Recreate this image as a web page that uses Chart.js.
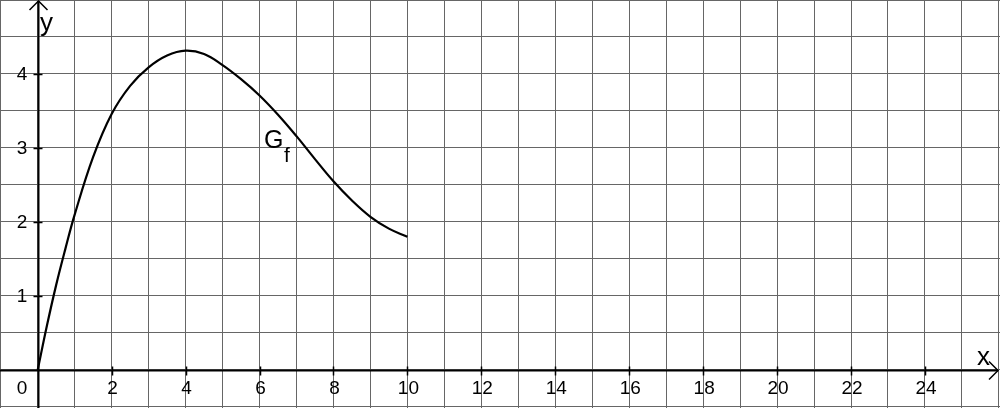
<!DOCTYPE html>
<html>
<head>
<meta charset="utf-8">
<script src="https://cdn.jsdelivr.net/npm/chart.js@4"></script>
<style>
  html, body { margin: 0; padding: 0; background: #fff; }
  #wrap { width: 1000px; height: 408px; }
</style>
</head>
<body>
<div id="wrap"><canvas id="graph" width="1000" height="408"></canvas></div>
<script>
// curve G_f
const xValues = [0, 0.25, 0.5, 0.75, 1, 1.5, 2, 2.5, 3, 3.5, 4, 4.5, 5, 5.5, 6, 6.5, 7, 7.5, 8, 8.5, 9, 9.5, 10];
const yValues = [0, 0.6, 1.15, 1.64, 2.1, 2.88, 3.46, 3.84, 4.09, 4.25, 4.315, 4.27, 4.12, 3.93, 3.71, 3.45, 3.16, 2.85, 2.55, 2.29, 2.07, 1.91, 1.8];

// labelled ticks
const xTickLabels = [2, 4, 6, 8, 10, 12, 14, 16, 18, 20, 22, 24];
const yTickLabels = [1, 2, 3, 4];

// grid lines
const xGrid = [];
for (let v = -1; v <= 26; v++) xGrid.push(v);
const yGrid = [];
for (let v = -0.5; v <= 5; v += 0.5) yGrid.push(v);

const points = xValues.map((x, i) => ({ x: x, y: yValues[i] }));

const axesPlugin = {
    id: 'axes',
    beforeDatasetsDraw(chart) {
        const ctx = chart.ctx;
        const xs = chart.scales.x, ys = chart.scales.y;
        const x0 = Math.round(xs.getPixelForValue(0)) + 0.5;
        const y0 = Math.round(ys.getPixelForValue(0)) + 0.5;
        ctx.save();
        ctx.strokeStyle = '#000';
        ctx.lineWidth = 2;
        ctx.beginPath();
        ctx.moveTo(x0, chart.height);
        ctx.lineTo(x0, 1);
        ctx.moveTo(0, y0);
        ctx.lineTo(chart.width - 2, y0);
        ctx.stroke();

        // arrow heads
        ctx.lineWidth = 1.5;
        ctx.beginPath();
        ctx.moveTo(x0 - 9, 10);
        ctx.lineTo(x0, 1);
        ctx.lineTo(x0 + 9, 10);
        ctx.moveTo(chart.width - 11, y0 - 9);
        ctx.lineTo(chart.width - 2, y0);
        ctx.lineTo(chart.width - 11, y0 + 9);
        ctx.stroke();

        // small tick marks
        ctx.beginPath();
        xTickLabels.forEach(v => {
            const p = Math.round(xs.getPixelForValue(v)) + 0.5;
            ctx.moveTo(p, y0 - 4);
            ctx.lineTo(p, y0 + 5);
        });
        yTickLabels.forEach(v => {
            const p = Math.round(ys.getPixelForValue(v)) + 0.5;
            ctx.moveTo(x0 - 5, p);
            ctx.lineTo(x0 + 4, p);
        });
        ctx.stroke();
        ctx.restore();
    },
    afterDraw(chart) {
        const ctx = chart.ctx;
        const xs = chart.scales.x, ys = chart.scales.y;
        const y0 = ys.getPixelForValue(0);
        ctx.save();
        ctx.fillStyle = '#000';
        ctx.font = '19px "Liberation Sans", Arial, sans-serif';
        ctx.textAlign = 'center';
        ctx.textBaseline = 'middle';
        xTickLabels.forEach(v => {
            ctx.fillText(String(v), xs.getPixelForValue(v) + 1, y0 + 19);
        });
        yTickLabels.forEach(v => {
            ctx.fillText(String(v), 22, ys.getPixelForValue(v) + 1);
        });
        ctx.fillText('0', 22, y0 + 19);

        ctx.textAlign = 'left';
        ctx.textBaseline = 'alphabetic';
        ctx.font = '26px "Liberation Sans", Arial, sans-serif';
        ctx.fillText('y', 40, 31);
        ctx.fillText('x', 977, 365);
        ctx.font = '25px "Liberation Sans", Arial, sans-serif';
        ctx.fillText('G', 264, 148);
        ctx.font = '21px "Liberation Sans", Arial, sans-serif';
        ctx.fillText('f', 284, 162);
        ctx.restore();
    }
};

new Chart(document.getElementById('graph'), {
    type: 'scatter',
    data: {
        datasets: [{
            data: points,
            showLine: true,
            borderColor: '#000',
            borderWidth: 2.2,
            pointRadius: 0,
            tension: 0.4,
            fill: false
        }]
    },
    options: {
        responsive: false,
        animation: false,
        layout: { padding: 0 },
        plugins: {
            legend: { display: false },
            tooltip: { enabled: false }
        },
        scales: {
            x: {
                type: 'linear',
                min: -1.02,
                max: 26.03,
                afterBuildTicks: s => { s.ticks = xGrid.map(v => ({ value: v })); },
                ticks: { display: false },
                border: { display: false },
                grid: { color: '#666', lineWidth: 1, drawTicks: false }
            },
            y: {
                type: 'linear',
                min: -0.514,
                max: 5.0,
                afterBuildTicks: s => { s.ticks = yGrid.map(v => ({ value: v })); },
                ticks: { display: false },
                border: { display: false },
                grid: { color: '#666', lineWidth: 1, drawTicks: false }
            }
        }
    },
    plugins: [axesPlugin]
});
</script>
</body>
</html>
